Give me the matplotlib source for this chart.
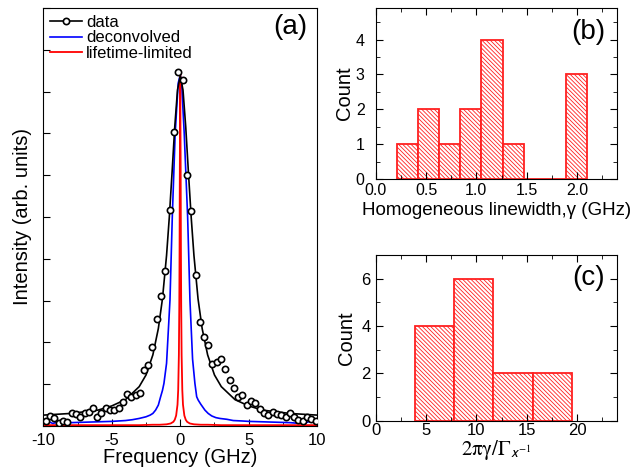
import numpy as np
import matplotlib.pyplot as plt
from matplotlib.ticker import MultipleLocator

plt.rcParams['font.family'] = ['Liberation Sans', 'DejaVu Sans']
plt.rcParams['mathtext.fontset'] = 'stix'
plt.rcParams['axes.unicode_minus'] = False
plt.rcParams['hatch.linewidth'] = 0.6
plt.rcParams['hatch.color'] = 'red'

# Panel (a): measured spectrum (points) and curves
data_x = [-9.83, -9.51, -9.20, -8.88, -8.56, -8.25, -7.93, -7.62, -7.30, -6.98,
          -6.67, -6.35, -6.08, -5.77, -5.45, -5.13, -4.82, -4.50, -4.18, -3.87,
          -3.58, -3.26, -2.94, -2.65, -2.34, -2.04, -1.73, -1.41, -1.09, -0.78,
          -0.49, -0.15, 0.17, 0.49, 0.78, 1.12, 1.41, 1.73, 2.04, 2.34,
          2.65, 2.97, 3.28, 3.60, 3.92, 4.21, 4.53, 4.84, 5.16, 5.47,
          5.79, 6.11, 6.42, 6.74, 7.06, 7.37, 7.69, 7.98, 8.30, 8.61,
          8.93, 9.25, 9.56, 9.88]
data_y = [0.013, 0.024, 0.020, 0.008, 0.013, 0.010, 0.030, 0.029, 0.022, 0.032,
          0.034, 0.042, 0.022, 0.030, 0.042, 0.038, 0.038, 0.042, 0.058, 0.077,
          0.070, 0.074, 0.078, 0.134, 0.146, 0.190, 0.256, 0.310, 0.370, 0.517,
          0.703, 0.846, 0.827, 0.600, 0.514, 0.362, 0.249, 0.212, 0.194, 0.148,
          0.154, 0.160, 0.136, 0.110, 0.090, 0.070, 0.074, 0.050, 0.060, 0.056,
          0.040, 0.032, 0.026, 0.034, 0.029, 0.026, 0.022, 0.032, 0.022, 0.014,
          0.013, 0.022, 0.016, 0.013]

fit_x = [-10, -8, -6, -5, -4, -3, -2.5, -2, -1.6, -1.3, -1, -0.8, -0.6, -0.4, -0.2, 0,
         0.2, 0.4, 0.6, 0.8, 1, 1.3, 1.6, 2, 2.5, 3, 4, 5, 6, 8, 10]
fit_y = [0.026, 0.030, 0.038, 0.048, 0.063, 0.094, 0.122, 0.170, 0.233, 0.304, 0.408,
         0.499, 0.605, 0.716, 0.804, 0.838, 0.804, 0.716, 0.605, 0.499, 0.408, 0.304,
         0.233, 0.170, 0.122, 0.094, 0.063, 0.048, 0.038, 0.030, 0.026]

deconv_x = [-10, -9.8, -9.6, -9.3, -9.0, -8.5, -8, -7, -6, -5, -4, -3.5, -3, -2.5, -2.2,
            -2.0, -1.8, -1.6, -1.45, -1.3, -1.19, -1.0, -0.75, -0.58, -0.37, -0.15, 0,
            0.1, 0.29, 0.54, 0.71, 0.9, 1.07, 1.2, 1.31, 1.5, 1.8, 2.04, 2.3, 2.6, 2.9,
            3.4, 3.87, 4.5, 5, 6, 7, 8, 8.8, 9.2, 9.6, 9.8, 10]
deconv_y = [0.005, 0.013, 0.010, 0.006, 0.009, 0.007, 0.008, 0.009, 0.010, 0.011,
            0.013, 0.015, 0.018, 0.022, 0.026, 0.030, 0.038, 0.050, 0.068, 0.085,
            0.102, 0.150, 0.301, 0.501, 0.700, 0.820, 0.840, 0.820, 0.700, 0.500,
            0.300, 0.160, 0.102, 0.070, 0.062, 0.052, 0.038, 0.030, 0.024, 0.020,
            0.018, 0.016, 0.013, 0.012, 0.011, 0.010, 0.009, 0.008, 0.006, 0.008,
            0.013, 0.010, 0.005]

life_x = [-10, -5, -3, -2, -1.5, -1, -0.7, -0.5, -0.4, -0.3, -0.2, -0.15, -0.1, -0.07,
          -0.05, -0.03, 0, 0.03, 0.05, 0.07, 0.1, 0.15, 0.2, 0.3, 0.4, 0.5, 0.7, 1,
          1.5, 2, 3, 5, 10]
life_y = [0.002, 0.002, 0.002, 0.003, 0.003, 0.004, 0.006, 0.010, 0.015, 0.025,
          0.051, 0.086, 0.170, 0.286, 0.422, 0.620, 0.842, 0.620, 0.422, 0.286,
          0.170, 0.086, 0.051, 0.025, 0.015, 0.010, 0.006, 0.004, 0.003, 0.003,
          0.002, 0.002, 0.002]

# Panel (b): histogram of homogeneous linewidths
b_edges = [0.21, 0.42, 0.63, 0.84, 1.05, 1.26, 1.47, 1.68, 1.89, 2.10]
b_counts = [1, 2, 1, 2, 4, 1, 0, 0, 3]

# Panel (c): histogram of 2*pi*gamma / Gamma
c_edges = [3.9, 7.8, 11.7, 15.6, 19.5]
c_counts = [4, 6, 2, 2]

fig = plt.figure(figsize=(6.34, 4.72), dpi=100)
ax_a = fig.add_axes([0.0683, 0.0975, 0.432, 0.8856])
ax_b = fig.add_axes([0.5926, 0.6208, 0.381, 0.3617])
ax_c = fig.add_axes([0.5926, 0.1087, 0.381, 0.351])

# (a)
ax_a.plot(fit_x, fit_y, 'k-', lw=1.2, zorder=3)
ax_a.plot(data_x, data_y, 'o', mfc='white', mec='black', ms=4.5, mew=1.2, zorder=4)
ax_a.plot([], [], 'k-', marker='o', mfc='white', mec='black', ms=4.5, mew=1.2, lw=1.2, label='data')
ax_a.plot(deconv_x, deconv_y, color='#0000ff', lw=1.2, label='deconvolved', zorder=2)
ax_a.plot(life_x, life_y, color='#ff0000', lw=1.3, label='lifetime-limited', zorder=2)
ax_a.set_xlim(-10, 10)
ax_a.set_ylim(0, 1.0)
ax_a.xaxis.set_major_locator(MultipleLocator(5))
ax_a.xaxis.set_minor_locator(MultipleLocator(2.5))
ax_a.yaxis.set_major_locator(MultipleLocator(0.1))
ax_a.set_yticklabels([])
ax_a.tick_params(axis='both', which='both', direction='in', labelsize=12, pad=5)
ax_a.tick_params(axis='both', which='major', length=5)
ax_a.tick_params(axis='both', which='minor', length=3)
ax_a.set_xlabel('Frequency (GHz)', fontsize=14.5, labelpad=0)
ax_a.set_ylabel('Intensity (arb. units)', fontsize=14.5, labelpad=3)
ax_a.legend(loc='upper left', frameon=False, fontsize=12, handlelength=1.9,
            labelspacing=0.05, borderaxespad=0.0, handletextpad=0.25)
ax_a.text(0.965, 0.985, '(a)', transform=ax_a.transAxes, ha='right', va='top', fontsize=20)


def hist_panel(ax, edges, counts):
    widths = np.diff(edges)
    ax.bar(edges[:-1], counts, width=widths, align='edge', color='white',
           edgecolor='#ff2020', hatch='\\\\\\\\\\\\\\\\', lw=1.3)


# (b)
hist_panel(ax_b, b_edges, b_counts)
ax_b.set_xlim(0, 2.4)
ax_b.set_ylim(0, 4.9)
ax_b.xaxis.set_major_locator(MultipleLocator(0.5))
ax_b.xaxis.set_minor_locator(MultipleLocator(0.25))
ax_b.yaxis.set_major_locator(MultipleLocator(1))
ax_b.yaxis.set_minor_locator(MultipleLocator(0.5))
ax_b.xaxis.set_major_formatter(lambda v, p: f'{v:.1f}')
ax_b.tick_params(axis='both', which='both', direction='in', top=True, right=True, labelsize=11.5)
ax_b.tick_params(axis='x', which='major', pad=3)
ax_b.tick_params(axis='y', which='major', pad=8)
ax_b.tick_params(axis='both', which='major', length=5)
ax_b.tick_params(axis='both', which='minor', length=3)
ax_b.set_xlabel('Homogeneous linewidth,γ (GHz)', fontsize=13.5, labelpad=3)
ax_b.set_ylabel('Count', fontsize=14.5, labelpad=1)
ax_b.text(0.95, 0.94, '(b)', transform=ax_b.transAxes, ha='right', va='top', fontsize=20)

# (c)
hist_panel(ax_c, c_edges, c_counts)
ax_c.set_xlim(0, 24)
ax_c.set_ylim(0, 7)
ax_c.xaxis.set_major_locator(MultipleLocator(5))
ax_c.xaxis.set_minor_locator(MultipleLocator(2.5))
ax_c.yaxis.set_major_locator(MultipleLocator(2))
ax_c.yaxis.set_minor_locator(MultipleLocator(1))
ax_c.tick_params(axis='both', which='both', direction='in', top=True, right=True, labelsize=12)
ax_c.tick_params(axis='x', which='major', pad=2)
ax_c.tick_params(axis='both', which='major', length=5)
ax_c.tick_params(axis='both', which='minor', length=3)
ax_c.set_xlabel(r'$\mathrm{2\pi\gamma/\Gamma}_{\mathsf{x}^{-1}}$', fontsize=15, labelpad=0)
ax_c.set_ylabel('Count', fontsize=14.5, labelpad=4)
ax_c.text(0.95, 0.94, '(c)', transform=ax_c.transAxes, ha='right', va='top', fontsize=20)

fig.savefig('out.png', dpi=100)
